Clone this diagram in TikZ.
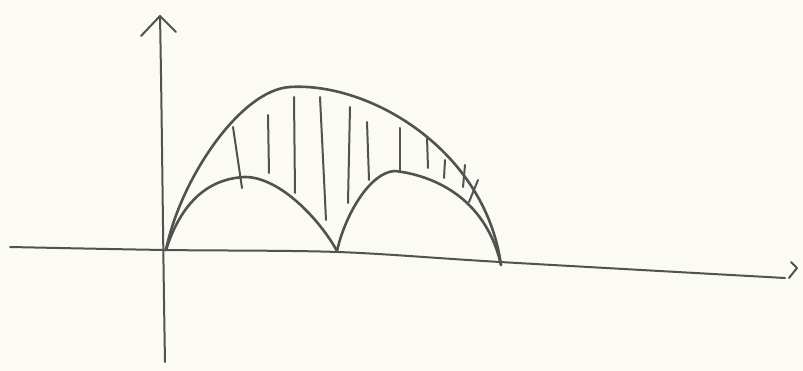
\documentclass[tikz,border=0pt]{standalone}
\begin{document}
\begin{tikzpicture}[x=1pt,y=-1pt,
  pen/.style={draw=black!68,line width=2.6pt,line cap=round,line join=round},
  axis/.style={draw=black!68,line width=2pt,line cap=round,line join=round},
  hatch/.style={draw=black!68,line width=2pt,line cap=round}]
\fill[fill={rgb,255:red,251;green,251;blue,244}] (0,0) rectangle (803,371);
\useasboundingbox (0,0) rectangle (803,371);
% axes
\coordinate (ybot) at (165,362);
\coordinate (ytop) at (160,16);
\coordinate (xl) at (10,247);
\coordinate (xr) at (785,278);
\draw[axis] (ybot) .. controls (163,250) and (162,120) .. (ytop);
\draw[axis] (141,36) -- (ytop) -- (176,32);
\draw[axis] plot[smooth] coordinates {(xl) (165,250) (338,252) (500,262) (xr)};
\draw[axis] (791,262) -- (797,268) -- (789,278);
% outer arc
\coordinate (o) at (166,250);
\coordinate (m) at (337,251);
\coordinate (e) at (501,265);
\draw[pen] (o) .. controls (180,180) and (240,90) .. (290,87)
  .. controls (370,82) and (485,150) .. (e);
% left inner arch
\draw[pen] (o) .. controls (185,190) and (220,178) .. (245,177)
  .. controls (280,177) and (320,220) .. (m);
% right inner arch
\draw[pen] (m) .. controls (345,215) and (370,172) .. (395,171)
  .. controls (430,175) and (485,195) .. (e);
% hatching
\draw[hatch] (233,127) -- (242,188);
\draw[hatch] (268,115) -- (269,173);
\draw[hatch] (294,97) -- (295,193);
\draw[hatch] (320,97) -- (326,220);
\draw[hatch] (350,107) -- (348,203);
\draw[hatch] (367,122) -- (369,180);
\draw[hatch] (400,128) -- (400,172);
\draw[hatch] (427,137) -- (428,168);
\draw[hatch] (445,160) -- (444,178);
\draw[hatch] (465,165) -- (463,187);
\draw[hatch] (478,180) -- (469,202);
\end{tikzpicture}
\end{document}
